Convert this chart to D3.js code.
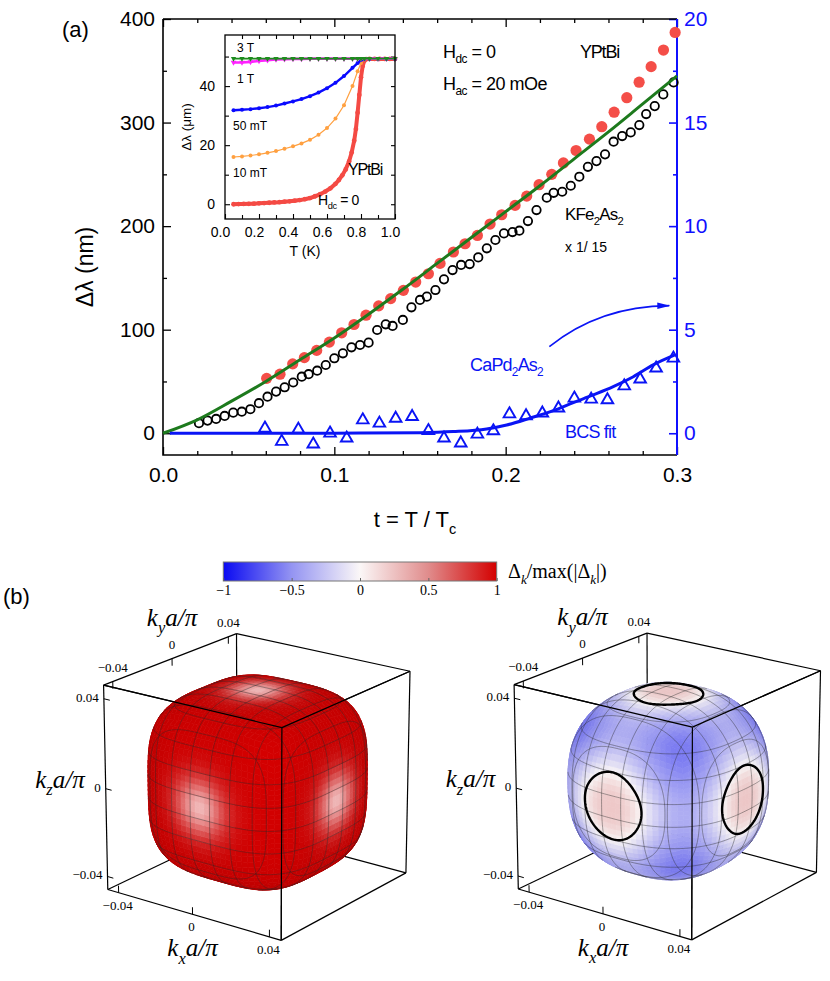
<!DOCTYPE html>
<html>
<head>
<meta charset="utf-8">
<script src="https://cdn.jsdelivr.net/npm/d3@7"></script>
<style>
  body { margin: 0; background: #fff; }
  svg { display: block; }
</style>
</head>
<body>
<svg id="fig" width="830" height="981"></svg>
<script>
// ---------- data, panel (a) ----------
// YPtBi, H_dc = 0 (filled red circles), t = T/Tc
const yptbiT  = [0.0605,0.0683,0.0757,0.0825,0.0897,0.0971,0.1043,0.1115,0.1185,0.1259,0.1329,0.1403,0.1475,0.1549,0.1617,0.1695,0.1763,0.1835,0.1909,0.1977,0.2055,0.2123,0.2195,0.2269,0.2337,0.2411,0.2489,0.2561,0.2633,0.2707,0.2779,0.2849,0.2921,0.2989];
const yptbiDL = [53,57,67,73,80,88,97,105,114,123,130,138,146,154,164,175,183,191,202,211,220,229,240,250,261,273,284,296,310,324,339,354,370,387];

// KFe2As2 x 1/15 (open black circles)
const kfeT  = [0.021,0.026,0.031,0.036,0.041,0.046,0.051,0.056,0.061,0.066,0.071,0.076,0.081,0.085,0.090,0.095,0.100,0.105,0.110,0.115,0.120,0.125,0.130,0.134,0.140,0.145,0.150,0.154,0.159,0.164,0.169,0.174,0.179,0.184,0.189,0.194,0.199,0.204,0.208,0.213,0.218,0.224,0.228,0.233,0.238,0.243,0.248,0.253,0.258,0.263,0.268,0.273,0.278,0.282,0.287,0.292,0.298];
const kfeDL = [9.7,12.2,13.8,16.7,19.9,20.8,23.2,29,35.3,40.2,44.4,49,54.6,57,60.4,65.9,72.4,77.2,83,85.2,87.5,99.7,105.2,103.6,109.4,121.6,128.7,131.9,138.3,148.6,157.6,162.5,163.4,169.8,178.6,186.6,193,194.3,195.6,204.9,215.5,227.4,232.2,233.2,239,247.7,257.3,262.8,269.3,281.5,287,290.5,297.6,308.2,315.9,327.2,338.8];

// green fit through YPtBi
const fitT  = [0,0.02,0.04,0.06,0.08,0.10,0.12,0.14,0.16,0.18,0.20,0.22,0.24,0.26,0.28,0.30];
const fitDL = [0,13,31,50,71,92,115,139,164,189,214,239,265,291,318,345];

// CaPd2As2 (blue triangles, right axis)
const capdT = [0.0595,0.0693,0.079,0.0877,0.0975,0.1072,0.1166,0.1263,0.1358,0.1454,0.1549,0.164,0.1738,0.1835,0.1928,0.2022,0.2119,0.2214,0.2308,0.2401,0.2499,0.2594,0.2692,0.2785,0.2878,0.2979];
const capdV = [0.24,-0.4,0.19,-0.53,0,-0.24,0.64,0.48,0.72,0.8,0.12,-0.24,-0.48,-0.05,0.11,0.93,0.84,0.97,1.21,1.69,1.64,1.61,2.28,2.61,3.14,3.62];

// BCS fit (blue line, right axis)
const bcsT = [0.004,0.05,0.10,0.15,0.1695,0.1889,0.2006,0.2142,0.2278,0.2395,0.2511,0.2628,0.2745,0.2861,0.2988];
const bcsV = [0,0,0.005,0.03,0.08,0.21,0.4,0.73,1.09,1.48,1.85,2.25,2.73,3.3,3.78];

// axis ticks
const xMajor = [0, 0.1, 0.2, 0.3];
const xMinor = [0.02,0.04,0.06,0.08,0.12,0.14,0.16,0.18,0.22,0.24,0.26,0.28];
const yMajor = [0, 100, 200, 300, 400];
const yMinor = [50, 150, 250, 350];
const yRMajor = [0, 5, 10, 15, 20];
const yRMinor = [2.5, 7.5, 12.5, 17.5];

// ---------- data, inset ----------
const insetRedT = [0.05,0.08,0.11,0.14,0.17,0.2,0.23,0.26,0.29,0.32,0.35,0.38,0.41,0.44,0.47,0.5,0.53,0.56,0.59,0.62,0.65,0.67,0.69,0.71,0.73,0.745,0.76,0.77,0.78,0.79,0.8,0.81,0.82,0.83,0.85,0.88,0.91,0.94,0.97,1.0];
const insetRedV = [0,0.05,0.1,0.15,0.2,0.3,0.4,0.5,0.6,0.7,0.85,1.0,1.2,1.4,1.7,2.1,2.7,3.4,4.3,5.4,6.9,8.2,9.8,11.8,14.5,17.5,21.5,25.5,31,37,43,46.8,48.6,49.1,49.2,49.2,49.2,49.2,49.2,49.2];
const insetT = [0.05,0.1,0.15,0.2,0.25,0.3,0.35,0.4,0.45,0.5,0.55,0.6,0.65,0.7,0.75,0.78,0.8,0.82,0.85,0.9,0.95,1.0];
const inset10mT = [16,16.2,16.5,16.9,17.4,18.0,18.8,19.6,20.6,21.8,23.5,25.8,29,33.5,40,45,47.8,49.1,49.2,49.2,49.2,49.2];
const inset50mT = [31.8,32,32.2,32.5,32.9,33.4,34.1,34.8,35.6,36.6,37.8,39.3,41.1,43.4,46.2,47.8,48.8,49.2,49.2,49.2,49.2,49.2];
const inset1T   = [48.0,48.0,48.2,48.5,48.8,49.0,49.1,49.2,49.2,49.3,49.3,49.3,49.3,49.3,49.3,49.3,49.3,49.3,49.3,49.3,49.3,49.3];
const inset3T   = [49.3,49.3,49.3,49.3,49.3,49.3,49.3,49.3,49.3,49.3,49.3,49.3,49.3,49.3,49.3,49.3,49.3,49.3,49.3,49.3,49.3,49.3];

// ---------- panel (b) ----------
const CBAR_VALUES = [-1, -0.5, 0, 0.5, 1];
const CBAR_COLORS = ["#0a0af2", "#9494f2", "#fbf7f7", "#e08c8c", "#d40000"];
const BOX_K = 0.046;                 // half width of the k box, units of pi/a
const K_TICKS = [-0.04, 0, 0.04];
const MESH_LEVELS = [-0.875,-0.625,-0.375,-0.125,0.125,0.375,0.625,0.875];
const GAP_FACE = 0.3, GAP_NODE = 0.776;

const SANS = "'Liberation Sans', Arial, Helvetica, sans-serif";
const SERIF = "'Liberation Serif', 'Times New Roman', serif";

const svg = d3.select("#fig");
svg.append("rect").attr("width", 830).attr("height", 981).attr("fill", "#fff");

const defs = svg.append("defs");
defs.append("marker").attr("id", "arr").attr("markerUnits", "userSpaceOnUse")
  .attr("markerWidth", 14).attr("markerHeight", 8).attr("refX", 12).attr("refY", 4)
  .attr("orient", "auto")
  .append("path").attr("d", "M0,0.8 L13,4 L0,7.2 Z").attr("fill", "#0a14f5");

// text with subscripts: parts = [{s, sub, it}]
function rich(g, x, y, fs, parts, opt = {}) {
  const t = g.append("text").attr("x", x).attr("y", y)
    .attr("font-size", fs).attr("font-family", opt.family || SANS)
    .attr("fill", opt.fill || "#000").attr("text-anchor", opt.anchor || "start");
  if (opt.ls != null) t.attr("letter-spacing", opt.ls);
  let cur = 0;
  parts.forEach(p => {
    const target = p.sub ? fs * 0.3 : 0;
    const ts = t.append("tspan").attr("dy", target - cur).text(p.s);
    cur = target;
    if (p.sub) ts.attr("font-size", fs * 0.66);
    if (p.it) ts.attr("font-style", "italic");
  });
  return t;
}

function styleAxis(g, color, fs, sw) {
  g.select(".domain").remove();
  g.selectAll("line").attr("stroke", color).attr("stroke-width", sw || 1.3);
  g.selectAll("text").attr("fill", color).attr("font-family", SANS).attr("font-size", fs);
  return g;
}

// ================= panel (a) =================
const x = d3.scaleLinear().domain([0, 0.3]).range([163, 677]);
const y = d3.scaleLinear().domain([-21, 400]).range([455, 19]);
const yR = d3.scaleLinear().domain([-1.05, 20]).range([455, 19]);

const pa = svg.append("g");

styleAxis(pa.append("g").attr("transform", "translate(0,455)")
  .call(d3.axisBottom(x).tickValues(xMajor).tickSize(-8).tickPadding(12).tickFormat(d3.format(".1f"))), "#000", 21);
styleAxis(pa.append("g").attr("transform", "translate(0,455)")
  .call(d3.axisBottom(x).tickValues(xMinor).tickSize(-4).tickFormat("")), "#000", 21);
styleAxis(pa.append("g").attr("transform", "translate(0,19)")
  .call(d3.axisTop(x).tickValues(xMajor).tickSize(-8).tickFormat("")), "#000", 21);
styleAxis(pa.append("g").attr("transform", "translate(0,19)")
  .call(d3.axisTop(x).tickValues(xMinor).tickSize(-4).tickFormat("")), "#000", 21);
styleAxis(pa.append("g").attr("transform", "translate(163,0)")
  .call(d3.axisLeft(y).tickValues(yMajor).tickSize(-8).tickPadding(8)), "#000", 21);
styleAxis(pa.append("g").attr("transform", "translate(163,0)")
  .call(d3.axisLeft(y).tickValues(yMinor).tickSize(-4).tickFormat("")), "#000", 21);
styleAxis(pa.append("g").attr("transform", "translate(677,0)")
  .call(d3.axisRight(yR).tickValues(yRMajor).tickSize(-8).tickPadding(7)), "#1010ff", 21, 1.6);
styleAxis(pa.append("g").attr("transform", "translate(677,0)")
  .call(d3.axisRight(yR).tickValues(yRMinor).tickSize(-4).tickFormat("")), "#1010ff", 21, 1.6);

// frame
pa.append("path").attr("d", `M163,19V455H677M163,19H677`).attr("fill", "none").attr("stroke", "#000").attr("stroke-width", 1.6);
pa.append("line").attr("x1", 677).attr("x2", 677).attr("y1", 19).attr("y2", 455).attr("stroke", "#1010ff").attr("stroke-width", 2);

// titles
pa.append("text").attr("x", 62).attr("y", 37).attr("font-family", SANS).attr("font-size", 22).text("(a)");
pa.append("text").attr("transform", "translate(93,267) rotate(-90)").attr("text-anchor", "middle")
  .attr("font-family", SANS).attr("font-size", 23).text("Δλ (nm)");
rich(pa, 415, 527, 22, [{ s: "t = T / T" }, { s: "c", sub: true }], { anchor: "middle" });

// series
const redPts = yptbiT.map((t, i) => [t, yptbiDL[i]]);
pa.append("g").selectAll("circle").data(redPts).join("circle")
  .attr("cx", d => x(d[0])).attr("cy", d => y(d[1])).attr("r", 5.6).attr("fill", "#f44e48");

const kfePts = kfeT.map((t, i) => [t, kfeDL[i]]);
pa.append("g").selectAll("circle").data(kfePts).join("circle")
  .attr("cx", d => x(d[0])).attr("cy", d => y(d[1])).attr("r", 4.2)
  .attr("fill", "none").attr("stroke", "#000").attr("stroke-width", 1.8);

const fitLine = d3.line().x(d => x(d[0])).y(d => y(d[1])).curve(d3.curveMonotoneX);
pa.append("path").datum(fitT.map((t, i) => [t, fitDL[i]])).attr("d", fitLine)
  .attr("fill", "none").attr("stroke", "#1d7a1d").attr("stroke-width", 3);

const bcsLine = d3.line().x(d => x(d[0])).y(d => yR(d[1])).curve(d3.curveMonotoneX);
pa.append("path").datum(bcsT.map((t, i) => [t, bcsV[i]])).attr("d", bcsLine)
  .attr("fill", "none").attr("stroke", "#0a14f5").attr("stroke-width", 3);

const tri = d3.symbol().type(d3.symbolTriangle).size(58);
pa.append("g").selectAll("path").data(capdT.map((t, i) => [t, capdV[i]])).join("path")
  .attr("d", tri).attr("transform", d => `translate(${x(d[0])},${yR(d[1])})`)
  .attr("fill", "none").attr("stroke", "#0a14f5").attr("stroke-width", 1.9);

// annotations
rich(pa, 443, 58, 18, [{ s: "H" }, { s: "dc", sub: true }, { s: " = 0" }], { ls: -0.5 });
rich(pa, 443, 90, 18, [{ s: "H" }, { s: "ac", sub: true }, { s: " = 20 mOe" }], { ls: -0.5 });
pa.append("text").attr("x", 580).attr("y", 58).attr("font-family", SANS).attr("font-size", 18)
  .attr("letter-spacing", -1.2).text("YPtBi");
rich(pa, 565, 220, 17, [{ s: "KFe" }, { s: "2", sub: true }, { s: "As" }, { s: "2", sub: true }], { ls: -0.8 });
pa.append("text").attr("x", 565).attr("y", 252).attr("font-family", SANS).attr("font-size", 14).text("x 1/ 15");
rich(pa, 470, 371, 18, [{ s: "CaPd" }, { s: "2", sub: true }, { s: "As" }, { s: "2", sub: true }], { ls: -0.8, fill: "#0a14f5" });
pa.append("text").attr("x", 565).attr("y", 438).attr("font-family", SANS).attr("font-size", 18)
  .attr("letter-spacing", -0.8).attr("fill", "#0a14f5").text("BCS fit");

const arrowPath = d3.path();
arrowPath.moveTo(x(0.2255), yR(4.18));
arrowPath.quadraticCurveTo(x(0.255), yR(6.14), x(0.2955), yR(6.16));
pa.append("path").attr("d", arrowPath.toString()).attr("fill", "none")
  .attr("stroke", "#0a14f5").attr("stroke-width", 1.6).attr("marker-end", "url(#arr)");

// ---------- inset ----------
const xi = d3.scaleLinear().domain([0, 1]).range([225, 395]);
const yi = d3.scaleLinear().domain([-5, 57.3]).range([219, 35]);
const gi = svg.append("g");
gi.append("rect").attr("x", 225).attr("y", 35).attr("width", 170).attr("height", 184).attr("fill", "#fff");

styleAxis(gi.append("g").attr("transform", "translate(0,219)")
  .call(d3.axisBottom(xi).tickValues([0, 0.2, 0.4, 0.6, 0.8, 1.0]).tickSize(-5).tickPadding(8).tickFormat(d3.format(".1f"))), "#000", 14, 1.1)
  .selectAll("text").attr("dx", -5);
styleAxis(gi.append("g").attr("transform", "translate(0,219)")
  .call(d3.axisBottom(xi).tickValues([0.1, 0.3, 0.5, 0.7, 0.9]).tickSize(-4).tickFormat("")), "#000", 14, 1.1);
styleAxis(gi.append("g").attr("transform", "translate(0,35)")
  .call(d3.axisTop(xi).tickValues([0.1,0.2,0.3,0.4,0.5,0.6,0.7,0.8,0.9]).tickSize(-4).tickFormat("")), "#000", 14, 1.1);
styleAxis(gi.append("g").attr("transform", "translate(225,0)")
  .call(d3.axisLeft(yi).tickValues([0, 20, 40]).tickSize(-5).tickPadding(10)), "#000", 14, 1.1);
styleAxis(gi.append("g").attr("transform", "translate(225,0)")
  .call(d3.axisLeft(yi).tickValues([10, 30, 50]).tickSize(-4).tickFormat("")), "#000", 14, 1.1);
styleAxis(gi.append("g").attr("transform", "translate(395,0)")
  .call(d3.axisRight(yi).tickValues([0, 10, 20, 30, 40, 50]).tickSize(-4).tickFormat("")), "#000", 14, 1.1);

const liL = d3.line().x(d => xi(d[0])).y(d => yi(d[1]));
function insetSeries(ts, vs, color, lw, r, shape) {
  const pts = ts.map((t, i) => [t, vs[i]]);
  gi.append("path").datum(pts).attr("d", liL).attr("fill", "none").attr("stroke", color).attr("stroke-width", lw);
  if (shape === "tri") {
    gi.append("g").selectAll("path").data(pts).join("path")
      .attr("d", d3.symbol().type(d3.symbolTriangle).size(r))
      .attr("transform", d => `translate(${xi(d[0])},${yi(d[1])}) rotate(180)`).attr("fill", color);
  } else {
    gi.append("g").selectAll("circle").data(pts).join("circle")
      .attr("cx", d => xi(d[0])).attr("cy", d => yi(d[1])).attr("r", r).attr("fill", color);
  }
}
insetSeries(insetRedT, insetRedV, "#f44a44", 4, 2.4, "dot");
insetSeries(insetT, inset10mT, "#ffa040", 1.2, 2.0, "dot");
insetSeries(insetT, inset50mT, "#0a0aff", 2.4, 2.0, "dot");
insetSeries(insetT, inset1T, "#ff22ff", 2.6, 14, "tri");
insetSeries(insetT, inset3T, "#1e8c1e", 1.6, 12, "tri");

gi.append("rect").attr("x", 225).attr("y", 35).attr("width", 170).attr("height", 184)
  .attr("fill", "none").attr("stroke", "#000").attr("stroke-width", 1.3);

const insetLabels = [["3 T", 237, 52], ["1 T", 237, 83], ["50 mT", 233, 130], ["10 mT", 233, 177]];
gi.selectAll(".il").data(insetLabels).join("text")
  .attr("x", d => d[1]).attr("y", d => d[2]).attr("font-family", SANS).attr("font-size", 12).text(d => d[0]);
gi.append("text").attr("x", 348).attr("y", 175).attr("font-family", SANS).attr("font-size", 16)
  .attr("letter-spacing", -1.2).text("YPtBi");
rich(gi, 318, 205, 14, [{ s: "H" }, { s: "dc", sub: true }, { s: " = 0" }], { ls: -0.4 });
gi.append("text").attr("transform", "translate(191,127) rotate(-90)").attr("text-anchor", "middle")
  .attr("font-family", SANS).attr("font-size", 13.5).text("Δλ (μm)");
gi.append("text").attr("x", 305).attr("y", 256).attr("text-anchor", "middle")
  .attr("font-family", SANS).attr("font-size", 14).text("T (K)");

// ================= panel (b) =================
svg.append("text").attr("x", 3).attr("y", 604).attr("font-family", SANS).attr("font-size", 22).text("(b)");

// colour bar
const cmap = d3.scaleLinear().domain(CBAR_VALUES).range(CBAR_COLORS).interpolate(d3.interpolateRgb);
const cbX = d3.scaleLinear().domain([-1, 1]).range([223.3, 496.7]);
const grad = defs.append("linearGradient").attr("id", "cbar");
grad.selectAll("stop").data(CBAR_VALUES).join("stop")
  .attr("offset", d => (d + 1) / 2).attr("stop-color", d => cmap(d));
svg.append("rect").attr("x", cbX(-1)).attr("y", 562).attr("width", cbX(1) - cbX(-1)).attr("height", 19)
  .attr("fill", "url(#cbar)").attr("stroke", "#777").attr("stroke-width", 1);
const fmtSigned = d => d === 0 ? "0" : (d < 0 ? "\u2212" : "") + Math.abs(d);
const cbAx = svg.append("g").attr("transform", "translate(0,581)")
  .call(d3.axisBottom(cbX).tickValues(CBAR_VALUES).tickSize(-3).tickPadding(4).tickFormat(fmtSigned));
cbAx.select(".domain").remove();
cbAx.selectAll("line").attr("stroke", "#666");
cbAx.selectAll("text").attr("font-family", SERIF).attr("font-size", 14).attr("fill", "#000");
rich(svg, 508, 578, 20, [{ s: "Δ" }, { s: "k", sub: true, it: true }, { s: "/max(|Δ" }, { s: "k", sub: true, it: true }, { s: "|)" }], { family: SERIF });

// ---- 3D projection (perspective, viewer at +kx, -ky, +kz) ----
const VIEW = { az: 36.6 * Math.PI / 180, el: 20 * Math.PI / 180, dist: 25, scale: 108 };
const dot = (a, b) => a[0] * b[0] + a[1] * b[1] + a[2] * b[2];
const sub = (a, b) => [a[0] - b[0], a[1] - b[1], a[2] - b[2]];
const unit = a => { const l = Math.hypot(a[0], a[1], a[2]); return [a[0] / l, a[1] / l, a[2] / l]; };
const cross = (a, b) => [a[1] * b[2] - a[2] * b[1], a[2] * b[0] - a[0] * b[2], a[0] * b[1] - a[1] * b[0]];
const spow = (v, e) => Math.sign(v) * Math.pow(Math.abs(v), e);
const ca = Math.cos(VIEW.az), sa = Math.sin(VIEW.az), cbv = Math.cos(VIEW.el), sbv = Math.sin(VIEW.el);
const vRight = [ca, sa, 0];
const vHor = [sa, -ca, 0];
const vCam = [vHor[0] * cbv, vHor[1] * cbv, sbv];
const vUp = [-vHor[0] * sbv, -vHor[1] * sbv, cbv];
const CAM = vCam.map(v => v * VIEW.dist);
function projector(cx, cy) {
  return q => {
    const k = VIEW.dist / (VIEW.dist - dot(q, vCam));
    return [cx + VIEW.scale * k * dot(q, vRight), cy - VIEW.scale * k * dot(q, vUp)];
  };
}
function surfPoint(d, R, p) {
  const s = Math.pow(Math.pow(Math.abs(d[0]), p) + Math.pow(Math.abs(d[1]), p) + Math.pow(Math.abs(d[2]), p), 1 / p);
  return [d[0] * R / s, d[1] * R / s, d[2] * R / s];
}
const surfNormal = (q, p) => unit(q.map(v => spow(v, p - 1)));
const visible = (q, p) => dot(sub(CAM, q), surfNormal(q, p)) > 0;
function gapOf(d) {
  const g = d[0] ** 4 + d[1] ** 4 + d[2] ** 4;
  return GAP_FACE * (g - GAP_NODE) / (1 - GAP_NODE);
}
const LIGHTS = [[0, 0, 1], [0, -1, 0], [1, 0, 0]];
function shade(base, q, p, light) {
  const n = surfNormal(q, p), d = unit(q), v = unit(sub(CAM, q));
  const ndv = Math.max(0, dot(n, v));
  let sp = 0;
  LIGHTS.forEach(L => { sp += Math.pow(Math.max(0, dot(d, L)), light.exp); });
  const c = d3.rgb(base), f = light.amb + (1 - light.amb) * ndv, w = Math.min(1, light.spec * sp);
  const mix = ch => Math.round(ch * f + (255 - ch * f) * w);
  return d3.rgb(mix(c.r), mix(c.g), mix(c.b)).formatHex();
}

const kScale = d3.scaleLinear().domain([-BOX_K, BOX_K]).range([-1, 1]);
const fmtK = d => d === 0 ? "0" : (d < 0 ? "\u2212" : "") + Math.abs(d).toFixed(2);

const PANELS = [
  { cx: 258, cy: 781, R: 0.88, p: 3.5, nodal: false, light: { amb: 0.85, spec: 0.72, exp: 22 } },
  { cx: 668.5, cy: 780.5, R: 0.87, p: 2.5, nodal: true, light: { amb: 0.95, spec: 0.25, exp: 22 } }
];
const BOX_AXES = [
  { at: t => [-1, -1, kScale(t)], dir: [0.07, 0, 0], lab: [-5, 3], anchor: "end",
    tpt: [-1, -1, 0], toff: [-21, -1], tanchor: "end", sub: "z" },
  { at: t => [-1, kScale(t), 1], dir: [0, 0, -0.07], lab: [0, -10], anchor: "middle",
    tpt: [-1, 0, 1], toff: [0, -33], tanchor: "middle", sub: "y" },
  { at: t => [kScale(t), -1, -1], dir: [0, 0, 0.07], lab: [-1, 17], anchor: "middle",
    tpt: [0, -1, -1], toff: [0, 42], tanchor: "middle", sub: "x" }
];

function drawPanel(pn) {
  const P = projector(pn.cx, pn.cy);
  const g = svg.append("g");
  const line = d3.line();
  const edges = [];
  [-1, 1].forEach(a => [-1, 1].forEach(b => {
    edges.push([[-1, a, b], [1, a, b]], [[a, -1, b], [a, 1, b]], [[a, b, -1], [a, b, 1]]);
  }));
  g.append("g").selectAll("path").data(edges).join("path")
    .attr("d", e => line(e.map(P))).attr("stroke", "#000").attr("stroke-width", 1.2).attr("fill", "none");

  // surface patches (cube-sphere parametrisation), painter's order
  const N = 26, cells = [];
  const warp = t => Math.tan(t * Math.PI / 4);
  for (let i = 0; i < 3; i++) for (const sg of [1, -1]) {
    const j = (i + 1) % 3, k = (i + 2) % 3;
    for (let a = 0; a < N; a++) for (let b = 0; b < N; b++) {
      const uv = [[a, b], [a + 1, b], [a + 1, b + 1], [a, b + 1], [a + 0.5, b + 0.5]];
      const pts = uv.map(([ua, vb]) => {
        const q = [0, 0, 0]; q[i] = sg; q[j] = warp(-1 + 2 * ua / N); q[k] = warp(-1 + 2 * vb / N);
        return surfPoint(unit(q), pn.R, pn.p);
      });
      if (!pts.some(q => visible(q, pn.p))) continue;
      const c = pts[4];
      const base = pn.nodal ? cmap(gapOf(unit(c))) : cmap(1);
      cells.push({ poly: pts.slice(0, 4).map(P), depth: dot(c, vCam), fill: shade(base, c, pn.p, pn.light) });
    }
  }
  cells.sort((m, n) => m.depth - n.depth);
  g.append("g").selectAll("path").data(cells).join("path")
    .attr("d", d => "M" + d.poly.map(q => q[0].toFixed(2) + "," + q[1].toFixed(2)).join("L") + "Z")
    .attr("fill", d => d.fill).attr("stroke", d => d.fill).attr("stroke-width", 0.7);

  // mesh lines: sections at constant kx, ky, kz
  const segs = [];
  for (let i = 0; i < 3; i++) {
    const j = (i + 1) % 3, k = (i + 2) % 3;
    MESH_LEVELS.forEach(lv => {
      const c = lv * pn.R;
      const rr = Math.pow(Math.pow(pn.R, pn.p) - Math.pow(Math.abs(c), pn.p), 1 / pn.p);
      let seg = [];
      for (let s = 0; s <= 400; s++) {
        const th = s / 400 * 2 * Math.PI;
        const q = [0, 0, 0]; q[i] = c; q[j] = rr * spow(Math.cos(th), 2 / pn.p); q[k] = rr * spow(Math.sin(th), 2 / pn.p);
        if (visible(q, pn.p)) seg.push(P(q));
        else { if (seg.length > 1) segs.push(seg); seg = []; }
      }
      if (seg.length > 1) segs.push(seg);
    });
  }
  g.append("g").selectAll("path").data(segs).join("path").attr("d", line)
    .attr("fill", "none").attr("stroke", "#2a2a2a").attr("stroke-opacity", 0.7).attr("stroke-width", 0.6);

  // nodal lines (gap = 0) around the visible face centres
  if (pn.nodal) {
    const loops = [[0, 0, 1], [0, -1, 0], [1, 0, 0]].map(ax => {
      const t1 = ax[2] !== 0 ? [1, 0, 0] : [0, 0, 1];
      const t2 = cross(ax, t1);
      const pts = [];
      for (let s = 0; s <= 180; s++) {
        const ph = s / 180 * 2 * Math.PI;
        const w = [0, 1, 2].map(m => t1[m] * Math.cos(ph) + t2[m] * Math.sin(ph));
        const dirAt = m => unit([0, 1, 2].map(c => ax[c] * Math.cos(m) + w[c] * Math.sin(m)));
        let lo = 0, hi = 0.75;
        for (let it = 0; it < 30; it++) {
          const m = (lo + hi) / 2;
          if (gapOf(dirAt(m)) > 0) lo = m; else hi = m;
        }
        pts.push(P(surfPoint(dirAt(lo), pn.R, pn.p)));
      }
      return pts;
    });
    g.append("g").selectAll("path").data(loops).join("path").attr("d", line)
      .attr("fill", "none").attr("stroke", "#000").attr("stroke-width", 2.4);
  }

  // front box edges (meeting at the corner nearest the viewer)
  const front = edges.filter(e => e.some(v => v[0] === 1 && v[1] === -1 && v[2] === 1));
  g.append("g").selectAll("path").data(front).join("path")
    .attr("d", e => line(e.map(P))).attr("stroke", "#000").attr("stroke-width", 1.2).attr("fill", "none");

  // ticks, tick labels, axis titles
  BOX_AXES.forEach(ax => {
    K_TICKS.forEach(t => {
      const q0 = ax.at(t), q1 = [q0[0] + ax.dir[0], q0[1] + ax.dir[1], q0[2] + ax.dir[2]];
      g.append("path").attr("d", line([P(q0), P(q1)])).attr("stroke", "#000").attr("stroke-width", 1);
      const s = P(q0);
      g.append("text").attr("x", s[0] + ax.lab[0]).attr("y", s[1] + ax.lab[1])
        .attr("text-anchor", ax.anchor).attr("font-family", SERIF).attr("font-size", 13)
        .attr("fill", "#000").text(fmtK(t));
    });
    const tp = P(ax.tpt);
    rich(g, tp[0] + ax.toff[0], tp[1] + ax.toff[1], 25,
      [{ s: "k", it: true }, { s: ax.sub, sub: true, it: true }, { s: "a", it: true }, { s: "/", it: true }, { s: "π", it: true }],
      { family: SERIF, anchor: ax.tanchor });
  });
}
PANELS.forEach(drawPanel);
</script>
</body>
</html>
